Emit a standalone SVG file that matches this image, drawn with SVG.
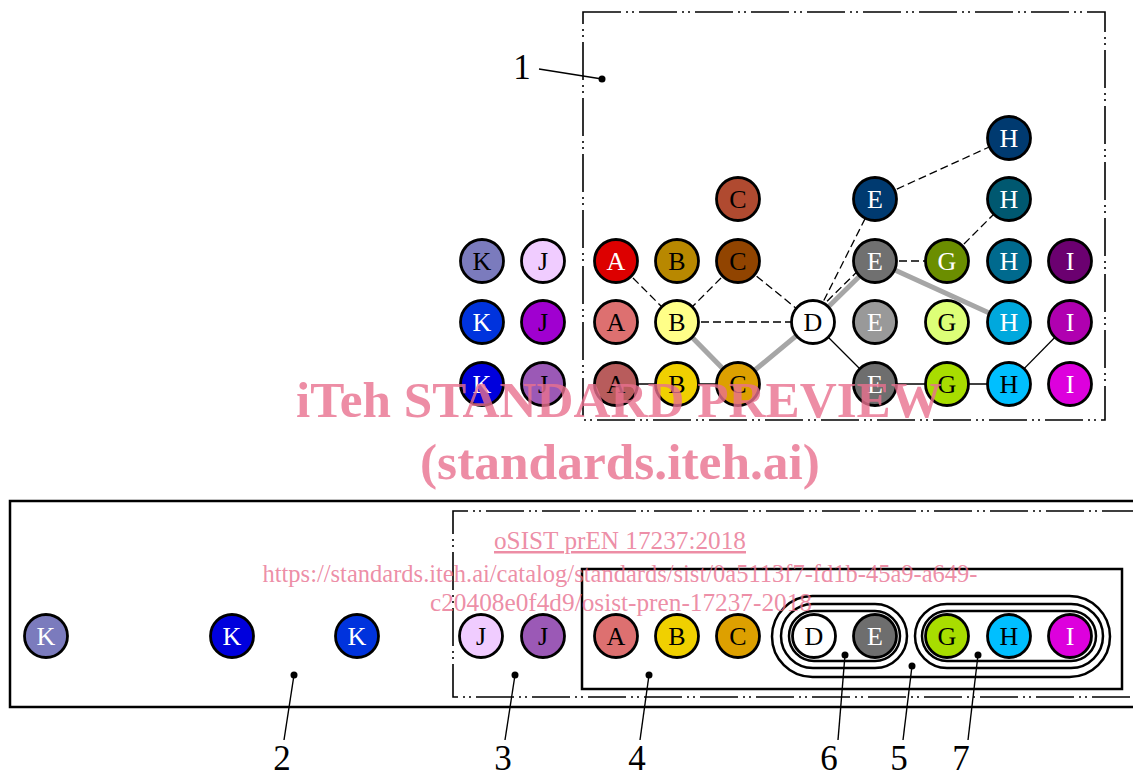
<svg xmlns="http://www.w3.org/2000/svg" width="1133" height="778" viewBox="0 0 1133 778">
<style>
.n{stroke:#000;stroke-width:2.8}
.t{font-family:"Liberation Serif",serif;font-size:26px;text-anchor:middle}
.w{fill:#fff}
.b{fill:#000}
.dash{stroke:#000;stroke-width:1.3;stroke-dasharray:8 4;fill:none}
.solid{stroke:#000;stroke-width:1.3;fill:none}
.gray{stroke:#a6a6a6;stroke-width:5;fill:none}
.dd{stroke:#000;stroke-width:1.6;fill:none;stroke-dasharray:38 5 2 4 2 5}
.frame{stroke:#000;stroke-width:2.5;fill:none}
.lead{stroke:#000;stroke-width:1.4;fill:none}
.num{font-family:"Liberation Serif",serif;font-size:35px;text-anchor:middle;fill:#000}
.wm{font-family:"Liberation Serif",serif;fill:#e8708f;fill-opacity:0.8;text-anchor:middle}
</style>

<!-- frames -->
<g id="frames">
  <rect class="dd" x="583" y="12" width="522" height="408"/>
  <path class="frame" d="M1140,501 H10 V707 H1140"/>
  <path class="dd" d="M1140,511 H453 V697 H1140"/>
  <rect class="frame" x="582" y="569" width="540" height="120"/>
  <rect class="frame" x="772" y="596" width="338" height="81" rx="40.5"/>
  <rect class="frame" x="781" y="604" width="126" height="64" rx="32"/>
  <rect class="frame" x="789" y="611" width="111" height="50" rx="25"/>
  <rect class="frame" x="915" y="604" width="188" height="64" rx="32"/>
  <rect class="frame" x="922" y="611" width="174" height="50" rx="25"/>
</g>

<!-- connectors -->
<g id="connectors">
  <polyline class="gray" points="677,322 738,384 813,322 875,261 1009,322"/>
  <line class="dash" x1="616" y1="261" x2="677" y2="322"/>
  <line class="dash" x1="738" y1="261" x2="677" y2="322"/>
  <line class="dash" x1="738" y1="261" x2="813" y2="322"/>
  <line class="dash" x1="677" y1="322" x2="813" y2="322"/>
  <line class="dash" x1="813" y1="322" x2="875" y2="199"/>
  <line class="dash" x1="810" y1="318" x2="872" y2="257"/>
  <line class="dash" x1="875" y1="261" x2="947" y2="261"/>
  <line class="dash" x1="947" y1="261" x2="1009" y2="199"/>
  <line class="dash" x1="875" y1="199" x2="1009" y2="138"/>
  <line class="solid" x1="813" y1="322" x2="875" y2="384"/>
  <line class="solid" x1="616" y1="384" x2="738" y2="384"/>
  <line class="solid" x1="875" y1="384" x2="1009" y2="384"/>
  <line class="solid" x1="1009" y1="384" x2="1070" y2="322"/>
</g>

<!-- top nodes -->
<g id="t-H0"><circle class="n" cx="1009" cy="138" r="21.5" fill="#003a70"/><text class="t w" x="1009" y="147">H</text></g>
<g id="t-C0"><circle class="n" cx="738" cy="199" r="21.5" fill="#b04a30"/><text class="t b" x="738" y="208">C</text></g>
<g id="t-E0"><circle class="n" cx="875" cy="199" r="21.5" fill="#003a70"/><text class="t w" x="875" y="208">E</text></g>
<g id="t-H1"><circle class="n" cx="1009" cy="199" r="21.5" fill="#005870"/><text class="t w" x="1009" y="208">H</text></g>

<g id="t-K1"><circle class="n" cx="482" cy="261" r="21.5" fill="#7b7bbd"/><text class="t b" x="482" y="270">K</text></g>
<g id="t-J1"><circle class="n" cx="543" cy="261" r="21.5" fill="#f0ccff"/><text class="t b" x="543" y="270">J</text></g>
<g id="t-A1"><circle class="n" cx="616" cy="261" r="21.5" fill="#dd0000"/><text class="t w" x="616" y="270">A</text></g>
<g id="t-B1"><circle class="n" cx="677" cy="261" r="21.5" fill="#b88800"/><text class="t b" x="677" y="270">B</text></g>
<g id="t-C1"><circle class="n" cx="738" cy="261" r="21.5" fill="#914400"/><text class="t b" x="738" y="270">C</text></g>
<g id="t-E1"><circle class="n" cx="875" cy="261" r="21.5" fill="#707070"/><text class="t w" x="875" y="270">E</text></g>
<g id="t-G1"><circle class="n" cx="947" cy="261" r="21.5" fill="#6b8e00"/><text class="t w" x="947" y="270">G</text></g>
<g id="t-H2"><circle class="n" cx="1009" cy="261" r="21.5" fill="#006a8e"/><text class="t w" x="1009" y="270">H</text></g>
<g id="t-I1"><circle class="n" cx="1070" cy="261" r="21.5" fill="#6b0070"/><text class="t w" x="1070" y="270">I</text></g>

<g id="t-K2"><circle class="n" cx="482" cy="322" r="21.5" fill="#0033dd"/><text class="t w" x="482" y="331">K</text></g>
<g id="t-J2"><circle class="n" cx="543" cy="322" r="21.5" fill="#a000d0"/><text class="t b" x="543" y="331">J</text></g>
<g id="t-A2"><circle class="n" cx="616" cy="322" r="21.5" fill="#dd7070"/><text class="t b" x="616" y="331">A</text></g>
<g id="t-B2"><circle class="n" cx="677" cy="322" r="21.5" fill="#ffff88"/><text class="t b" x="677" y="331">B</text></g>
<g id="t-D2"><circle class="n" cx="813" cy="322" r="21.5" fill="#ffffff"/><text class="t b" x="813" y="331">D</text></g>
<g id="t-E2"><circle class="n" cx="875" cy="322" r="21.5" fill="#999999"/><text class="t w" x="875" y="331">E</text></g>
<g id="t-G2"><circle class="n" cx="947" cy="322" r="21.5" fill="#ddff77"/><text class="t b" x="947" y="331">G</text></g>
<g id="t-H3"><circle class="n" cx="1009" cy="322" r="21.5" fill="#00a8dd"/><text class="t w" x="1009" y="331">H</text></g>
<g id="t-I2"><circle class="n" cx="1070" cy="322" r="21.5" fill="#b000b0"/><text class="t w" x="1070" y="331">I</text></g>

<g id="t-K3"><circle class="n" cx="482" cy="384" r="21.5" fill="#0000dd"/><text class="t w" x="482" y="393">K</text></g>
<g id="t-J3"><circle class="n" cx="543" cy="384" r="21.5" fill="#9b59b6"/><text class="t b" x="543" y="393">J</text></g>
<g id="t-A3"><circle class="n" cx="616" cy="384" r="21.5" fill="#b85c5c"/><text class="t b" x="616" y="393">A</text></g>
<g id="t-B3"><circle class="n" cx="677" cy="384" r="21.5" fill="#f0d000"/><text class="t b" x="677" y="393">B</text></g>
<g id="t-C3"><circle class="n" cx="738" cy="384" r="21.5" fill="#dda000"/><text class="t b" x="738" y="393">C</text></g>
<g id="t-E3"><circle class="n" cx="875" cy="384" r="21.5" fill="#6e6e6e"/><text class="t w" x="875" y="393">E</text></g>
<g id="t-G3"><circle class="n" cx="947" cy="384" r="21.5" fill="#a8dd00"/><text class="t b" x="947" y="393">G</text></g>
<g id="t-H4"><circle class="n" cx="1009" cy="384" r="21.5" fill="#00bfff"/><text class="t b" x="1009" y="393">H</text></g>
<g id="t-I3"><circle class="n" cx="1070" cy="384" r="21.5" fill="#dd00dd"/><text class="t w" x="1070" y="393">I</text></g>

<!-- bottom nodes -->
<g id="b-K1"><circle class="n" cx="46" cy="636" r="21.5" fill="#7b7bbd"/><text class="t w" x="46" y="645">K</text></g>
<g id="b-K2"><circle class="n" cx="232" cy="636" r="21.5" fill="#0000dd"/><text class="t w" x="232" y="645">K</text></g>
<g id="b-K3"><circle class="n" cx="357" cy="636" r="21.5" fill="#0033dd"/><text class="t w" x="357" y="645">K</text></g>
<g id="b-J1"><circle class="n" cx="481" cy="636" r="21.5" fill="#f0ccff"/><text class="t b" x="481" y="645">J</text></g>
<g id="b-J2"><circle class="n" cx="543" cy="636" r="21.5" fill="#9b59b6"/><text class="t b" x="543" y="645">J</text></g>
<g id="b-A"><circle class="n" cx="616" cy="636" r="21.5" fill="#dd7070"/><text class="t b" x="616" y="645">A</text></g>
<g id="b-B"><circle class="n" cx="677" cy="636" r="21.5" fill="#f0d000"/><text class="t b" x="677" y="645">B</text></g>
<g id="b-C"><circle class="n" cx="738" cy="636" r="21.5" fill="#dda000"/><text class="t b" x="738" y="645">C</text></g>
<g id="b-D"><circle class="n" cx="814" cy="636" r="21.5" fill="#ffffff"/><text class="t b" x="814" y="645">D</text></g>
<g id="b-E"><circle class="n" cx="875" cy="636" r="21.5" fill="#6e6e6e"/><text class="t w" x="875" y="645">E</text></g>
<g id="b-G"><circle class="n" cx="947" cy="636" r="21.5" fill="#a8dd00"/><text class="t b" x="947" y="645">G</text></g>
<g id="b-H"><circle class="n" cx="1009" cy="636" r="21.5" fill="#00bfff"/><text class="t b" x="1009" y="645">H</text></g>
<g id="b-I"><circle class="n" cx="1070" cy="636" r="21.5" fill="#dd00dd"/><text class="t w" x="1070" y="645">I</text></g>

<!-- callouts -->
<g id="callouts">
  <text class="num" x="522" y="79">1</text>
  <line class="lead" x1="539" y1="69" x2="602" y2="79"/><circle cx="602" cy="79" r="3.5"/>
  <line class="lead" x1="294" y1="675" x2="284" y2="740"/><circle cx="294" cy="675" r="3.5"/>
  <text class="num" x="282" y="770">2</text>
  <line class="lead" x1="515" y1="675" x2="505" y2="740"/><circle cx="515" cy="675" r="3.5"/>
  <text class="num" x="503" y="770">3</text>
  <line class="lead" x1="649" y1="675" x2="640" y2="740"/><circle cx="649" cy="675" r="3.5"/>
  <text class="num" x="637" y="770">4</text>
  <line class="lead" x1="845" y1="655" x2="838" y2="740"/><circle cx="845" cy="655" r="3.5"/>
  <text class="num" x="829" y="770">6</text>
  <line class="lead" x1="912" y1="666" x2="903" y2="740"/><circle cx="912" cy="666" r="3.5"/>
  <text class="num" x="899" y="770">5</text>
  <line class="lead" x1="978" y1="655" x2="968" y2="740"/><circle cx="978" cy="655" r="3.5"/>
  <text class="num" x="961" y="770">7</text>
</g>

<!-- watermark -->
<g id="watermark">
  <text class="wm" x="619" y="417" font-size="50" font-weight="bold" textLength="646" lengthAdjust="spacingAndGlyphs">iTeh STANDARD PREVIEW</text>
  <text class="wm" x="620" y="479" font-size="50" font-weight="bold" textLength="400" lengthAdjust="spacingAndGlyphs">(standards.iteh.ai)</text>
  <text class="wm" x="620" y="549" font-size="25" textLength="252" lengthAdjust="spacingAndGlyphs" text-decoration="underline">oSIST prEN 17237:2018</text>
  <text class="wm" x="620" y="582" font-size="25" textLength="715" lengthAdjust="spacingAndGlyphs">https://standards.iteh.ai/catalog/standards/sist/0a5113f7-fd1b-45a9-a649-</text>
  <text class="wm" x="621" y="611" font-size="25" textLength="382" lengthAdjust="spacingAndGlyphs">c20408e0f4d9/osist-pren-17237-2018</text>
</g>
</svg>
